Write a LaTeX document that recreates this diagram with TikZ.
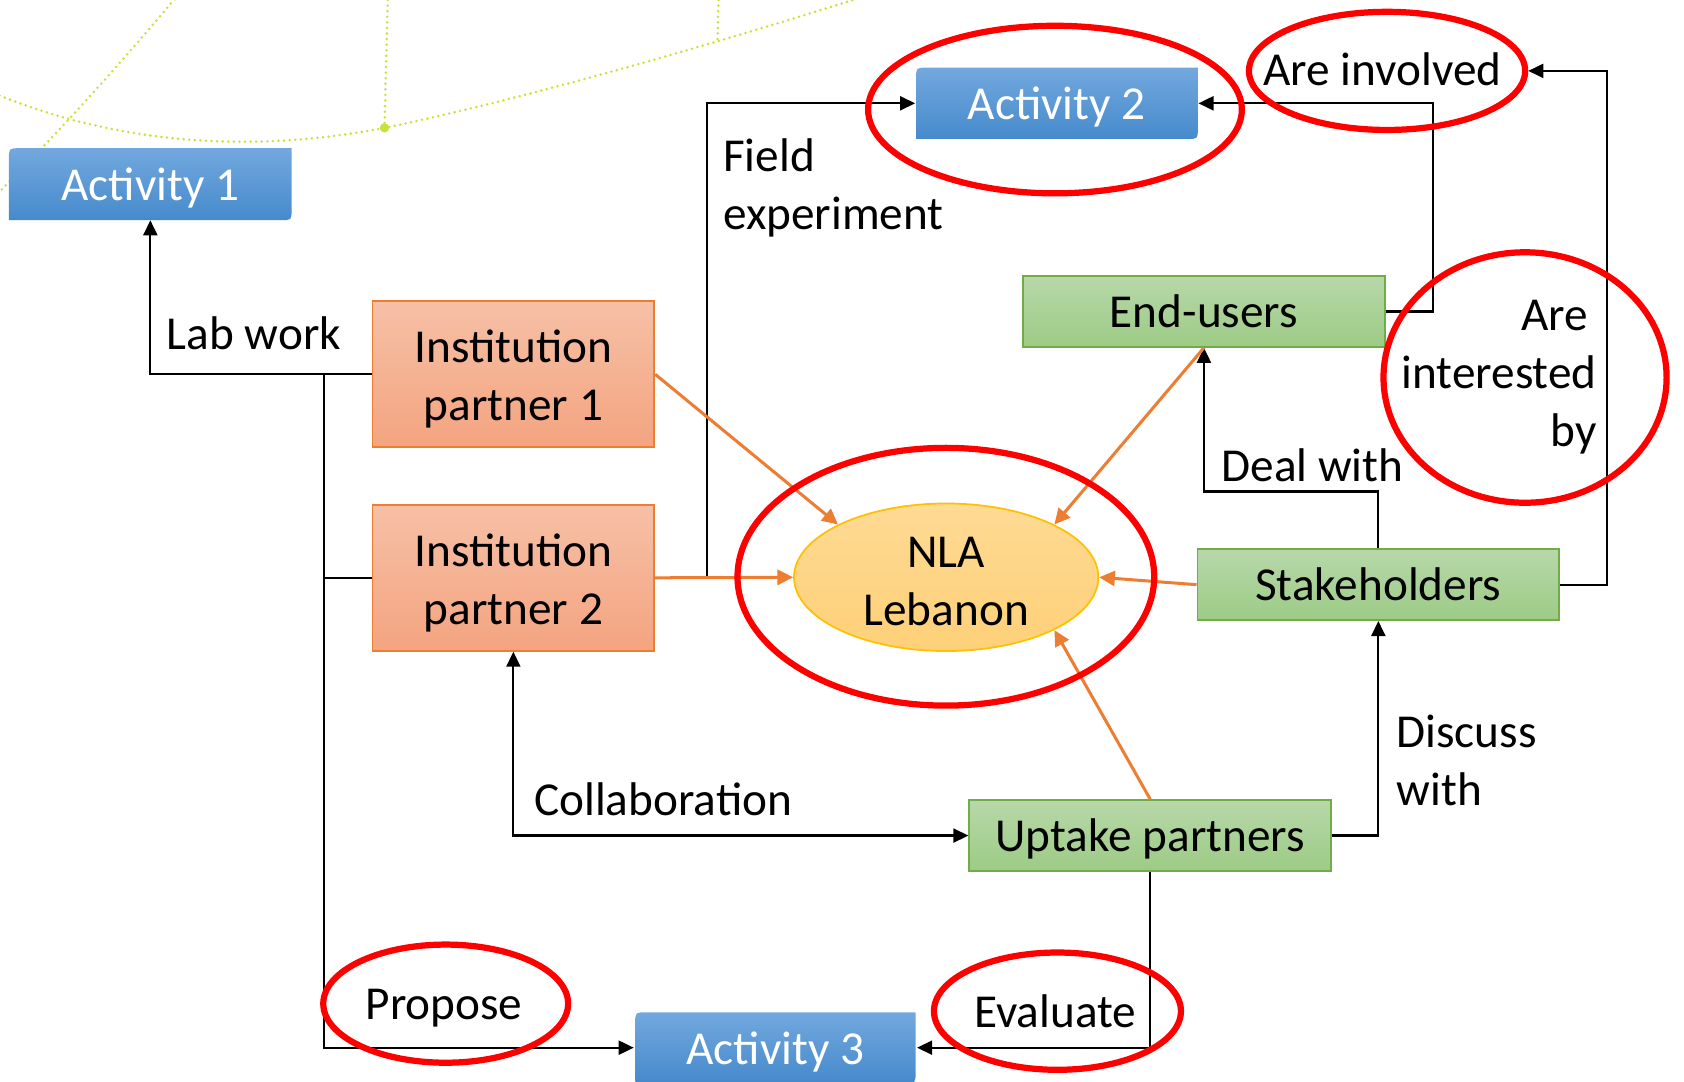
\documentclass[tikz,border=0pt]{standalone}
\usepackage{fontspec}
\setmainfont{Carlito}
\usetikzlibrary{arrows.meta,shapes.geometric}
\definecolor{actTop}{RGB}{114,168,222}
\definecolor{actBot}{RGB}{70,138,204}
\definecolor{orTop}{RGB}{246,192,166}
\definecolor{orBot}{RGB}{244,164,128}
\definecolor{orLine}{RGB}{237,125,49}
\definecolor{grTop}{RGB}{183,216,169}
\definecolor{grBot}{RGB}{157,203,134}
\definecolor{grLine}{RGB}{112,173,71}
\definecolor{elTop}{RGB}{254,218,148}
\definecolor{elBot}{RGB}{254,208,120}
\definecolor{elLine}{RGB}{255,192,0}
\definecolor{deco}{RGB}{200,226,60}
\definecolor{redring}{RGB}{255,0,0}
\newcommand\actshape[4]{%
  \shade[top color=actTop, bottom color=actBot]
    (#1,#4) -- (#1,#2+10) .. controls (#1,#2) .. (#1+10,#2) -- (#3,#2)
    -- (#3,#4-10) .. controls (#3,#4) .. (#3-10,#4) -- cycle;}
\begin{document}
\begin{tikzpicture}[x=0.5pt,y=-0.5pt,
  every node/.style={font=\fontsize{22}{27}\selectfont},
  instbox/.style={rectangle, draw=orLine, line width=0.8pt, top color=orTop, bottom color=orBot,
    minimum width=131.25pt, minimum height=68pt, inner sep=0pt, align=center, text height=46.7pt},
  grbox/.style={rectangle, draw=grLine, line width=0.8pt, top color=grTop, bottom color=grBot,
    minimum width=168.5pt, minimum height=33pt, inner sep=0pt, text height=14.8pt, text depth=0pt},
  nlabox/.style={ellipse, draw=elLine, line width=0.8pt, top color=elTop, bottom color=elBot,
    minimum width=141.7pt, minimum height=68.7pt, inner sep=0pt, align=center, text height=45pt},
  acttext/.style={rectangle, minimum width=131.5pt, minimum height=33.2pt, inner sep=0pt,
    text=white, text height=15.4pt, text depth=0pt},
  lbl/.style={inner sep=0pt},
  conn/.style={draw=black, line width=1pt, -{Triangle[length=7pt,width=6.5pt]}},
  oconn/.style={draw=orLine, line width=1.4pt, -{Triangle[length=7.3pt,width=7pt]}},
  ring/.style={draw=redring, line width=2.9pt},
  decoline/.style={draw=deco, line width=1.3pt, dash pattern=on 0pt off 2.6pt, line cap=round}]
\useasboundingbox (0,0) rectangle (1568,1007);
\clip (0,0) rectangle (1568,1007);
\fill[white] (0,0) rectangle (1568,1007);

% decorative dotted lines
\draw[decoline] (-10,85) .. controls (120,140) and (250,140) .. (358,119)
  .. controls (500,90) and (700,30) .. (810,-5);
\draw[decoline] (-2,180) .. controls (60,118) and (120,50) .. (166,-5);
\draw[decoline] (361,0) -- (358,119);
\draw[decoline] (669,0) -- (668,40);
\fill[deco] (358,119) circle (2.2pt);

% activity shapes
\actshape{8.3}{138}{271.5}{205}
\actshape{853}{63}{1115.3}{129.4}
\actshape{591.6}{942.6}{852.5}{1008.5}

% nodes
\node[acttext] (a1) at (140,171.5) {Activity 1};
\node[acttext] (a2) at (984,96.2) {Activity 2};
\node[acttext] (a3) at (722,975.5) {Activity 3};
\node[instbox] (ip1) at (478,348.5) {Institution\\partner 1};
\node[instbox] (ip2) at (478,538) {Institution\\partner 2};
\node[nlabox] (nla) at (881,537.5) {NLA\\Lebanon};
\node[grbox] (eu) at (1121,290) {End-users};
\node[grbox] (sh) at (1283.4,544.4) {Stakeholders};
\node[grbox] (up) at (1071,778) {Uptake partners};

% helper coordinates
\coordinate (bus) at (302,348.5);
\coordinate (fe) at (658,538);
\coordinate (eucorner) at (1334,290);
\coordinate (shcorner) at (1496.5,544.4);
\coordinate (aitip) at (1423,66);

% black connectors
\draw[conn] (ip1.west) -| (a1.south);
\draw[conn] (bus) |- (a3.west);
\draw[line width=1pt] (ip2.west) -- (ip2.west -| bus);
\draw[conn] (fe) |- (a2.west);
\draw[conn] (eu.east) -- (eucorner) |- (a2.east);
\draw[conn] (sh.east) -- (shcorner) |- (aitip);
\draw[conn] (sh.north) -- ++(0,-53) -| (eu.south);
\draw[conn] (up.east) -| (sh.south);
\draw[conn, {Triangle[length=7pt,width=6.5pt]}-{Triangle[length=7pt,width=6.5pt]}] (ip2.south) |- (up.west);
\draw[conn] (up.south) |- (a3.east);

% orange connectors
\draw[oconn] (ip1.east) -- (nla.north west);
\draw[oconn] (ip2.east) -- (nla.west);
\draw[oconn] (eu.south) -- (nla.north east);
\draw[oconn] (sh.west) -- (nla.east);
\draw[oconn] (up.north) -- (nla.south east);

% labels
\node[lbl, anchor=base] (lab) at (236.5,325) {Lab work};
\node[lbl, anchor=west, align=left] (field) at (673,175) {Field\\experiment};
\node[lbl, anchor=base] (ainv) at (1287,80) {Are involved};
\node[lbl, anchor=east, align=right] (aib) at (1487,351) {Are\hspace*{4pt}\\interested\\by};
\node[lbl, anchor=base] (deal) at (1222,448.5) {Deal with};
\node[lbl, anchor=west, align=left] (disc) at (1300,708) {Discuss\\with};
\node[lbl, anchor=base] (collab) at (617.5,759.5) {Collaboration};
\node[lbl, anchor=base] (prop) at (413.5,949) {Propose};
\node[lbl, anchor=base] (eval) at (982.5,956.5) {Evaluate};

% red rings
\draw[ring] (982.3,102) ellipse [x radius=87pt, y radius=39pt];
\draw[ring] (1291.5,66) ellipse [x radius=64.3pt, y radius=27.5pt];
\draw[ring] (1420,351.5) ellipse [x radius=65.9pt, y radius=58.3pt];
\draw[ring] (880.7,537) ellipse [x radius=97pt, y radius=60pt];
\draw[ring] (415,934.5) ellipse [x radius=57pt, y radius=27.5pt];
\draw[ring] (984.6,941.5) ellipse [x radius=57.5pt, y radius=27.3pt];
\end{tikzpicture}
\end{document}
